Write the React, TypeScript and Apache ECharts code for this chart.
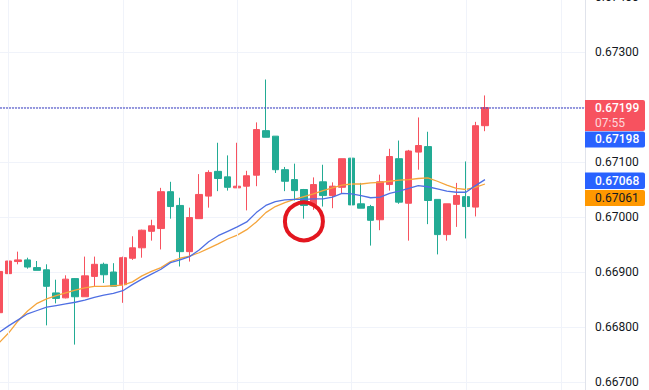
import React, { useEffect, useRef } from "react";
import * as echarts from "echarts";

const slotCount = 62;
const categories = Array.from({ length: slotCount }, (_, i) => String(i));

const opens = [0.66826, 0.66897, 0.66919, 0.66922, 0.66908, 0.66904, 0.66862, 0.66853, 0.66888, 0.66855, 0.66892, 0.66914, 0.669, 0.66877, 0.66925, 0.66944, 0.66974, 0.66979, 0.67046, 0.67021, 0.66937, 0.66997, 0.67038, 0.67083, 0.67073, 0.67053, 0.67056, 0.67076, 0.67157, 0.67147, 0.67086, 0.67068, 0.6705, 0.67022, 0.67064, 0.67039, 0.67054, 0.67107, 0.67024, 0.67019, 0.66995, 0.67059, 0.67106, 0.67025, 0.67118, 0.67128, 0.67032, 0.66968, 0.67023, 0.67037, 0.67018, 0.67166];
const closes = [0.66901, 0.6692, 0.66922, 0.66909, 0.66903, 0.66874, 0.66852, 0.66887, 0.66855, 0.66893, 0.66914, 0.66895, 0.66874, 0.66926, 0.66944, 0.66976, 0.66984, 0.67046, 0.67019, 0.66937, 0.66999, 0.67041, 0.67081, 0.6707, 0.67054, 0.67056, 0.67075, 0.67159, 0.67145, 0.67086, 0.67065, 0.67048, 0.67021, 0.67059, 0.67039, 0.67056, 0.67106, 0.67022, 0.67016, 0.66994, 0.67064, 0.6711, 0.67027, 0.6712, 0.6713, 0.6703, 0.66968, 0.67024, 0.67039, 0.67019, 0.67166, 0.67199];
const lows = [0.66825, 0.6689, 0.66914, 0.66906, 0.66903, 0.66803, 0.66843, 0.66852, 0.66768, 0.66855, 0.66874, 0.6688, 0.66874, 0.66844, 0.66922, 0.66926, 0.66957, 0.66941, 0.66997, 0.6691, 0.66919, 0.66997, 0.67017, 0.67047, 0.67048, 0.67053, 0.67012, 0.67056, 0.67145, 0.6708, 0.67047, 0.6703, 0.66997, 0.67013, 0.67019, 0.67016, 0.67043, 0.67022, 0.67016, 0.66948, 0.66976, 0.67048, 0.67024, 0.66957, 0.67086, 0.66987, 0.66932, 0.66957, 0.66982, 0.66961, 0.67001, 0.67156];
const highs = [0.66903, 0.66946, 0.66937, 0.66926, 0.6692, 0.66914, 0.66886, 0.66894, 0.66889, 0.66928, 0.66928, 0.66917, 0.66916, 0.66928, 0.66965, 0.66977, 0.66995, 0.67053, 0.67064, 0.67035, 0.67017, 0.67078, 0.67085, 0.67135, 0.67112, 0.67135, 0.67084, 0.67172, 0.6725, 0.67147, 0.67091, 0.67097, 0.67051, 0.67072, 0.67095, 0.67063, 0.67106, 0.67117, 0.67062, 0.67022, 0.67077, 0.67124, 0.67139, 0.67122, 0.67181, 0.67155, 0.67032, 0.67024, 0.67062, 0.67101, 0.67173, 0.67221];

const maBlue = [0.6679, 0.66802, 0.66813, 0.66824, 0.6683, 0.66836, 0.66839, 0.66842, 0.66845, 0.66849, 0.66854, 0.66858, 0.66861, 0.66866, 0.66877, 0.66887, 0.66896, 0.66905, 0.66917, 0.66922, 0.66928, 0.6694, 0.66955, 0.66966, 0.66974, 0.66982, 0.66991, 0.67008, 0.67021, 0.67028, 0.67031, 0.67032, 0.67032, 0.67033, 0.67033, 0.67036, 0.67043, 0.67042, 0.67039, 0.67035, 0.67036, 0.67043, 0.67047, 0.67052, 0.67057, 0.67055, 0.67051, 0.67047, 0.67045, 0.67045, 0.67057, 0.67068];
const maOrange = [0.66771, 0.66789, 0.66811, 0.66829, 0.66843, 0.66851, 0.66857, 0.66862, 0.66867, 0.66871, 0.66874, 0.66874, 0.66875, 0.66876, 0.66882, 0.66893, 0.66901, 0.66908, 0.66919, 0.66925, 0.66929, 0.66935, 0.66943, 0.66951, 0.6696, 0.66967, 0.66977, 0.66991, 0.67008, 0.67019, 0.67026, 0.67032, 0.67037, 0.67042, 0.67048, 0.67053, 0.67058, 0.6706, 0.6706, 0.67062, 0.67063, 0.67065, 0.67067, 0.67068, 0.6707, 0.67071, 0.67065, 0.67058, 0.67052, 0.6705, 0.67054, 0.6706];

const vGridSlots = ["1", "13", "25", "37", "49", "59"];
const horizontalLevel = 0.67198;
const lastPrice = 0.67199;
const countdown = "07:55";
const blueMaLast = 0.67068;
const orangeMaLast = 0.67061;
const circleSlot = "32";
const circlePrice = 0.66992;

const yMin = 0.666;
const yMax = 0.674;
const yInterval = 0.001;

const UP = "#f7525f";
const DOWN = "#22ab94";
const FONT = "Roboto, 'Noto Sans', sans-serif";

export default function App() {
  const ref = useRef<HTMLDivElement | null>(null);

  useEffect(() => {
    if (!ref.current) return;
    const chart = echarts.init(ref.current, undefined, { renderer: "svg" });
    const candles = opens.map((o, i) => [o, closes[i], lows[i], highs[i]]);

    chart.setOption({
      animation: false,
      backgroundColor: "#ffffff",
      grid: {
        left: -5.75,
        right: 64,
        top: -3,
        bottom: -47,
        containLabel: false,
        outerBoundsMode: "none",
      },
      xAxis: {
        type: "category",
        data: categories,
        boundaryGap: true,
        axisLine: { show: false },
        axisTick: { show: false },
        axisLabel: { show: false },
        splitLine: { show: false },
      },
      yAxis: {
        type: "value",
        position: "right",
        min: yMin,
        max: yMax,
        interval: yInterval,
        axisLine: { show: true, lineStyle: { color: "#e0e3eb", width: 1 } },
        axisTick: { show: false },
        axisLabel: {
          margin: 10,
          color: "#131722",
          fontSize: 12,
          fontFamily: FONT,
          formatter: (v: number) => v.toFixed(5),
        },
        splitLine: { show: true, lineStyle: { color: "#f0f3fa", width: 1 } },
      },
      series: [
        {
          type: "line",
          data: [],
          z: 1,
          silent: true,
          markLine: {
            silent: true,
            symbol: "none",
            label: { show: false },
            lineStyle: { color: "#f0f3fa", width: 1, type: "solid" },
            data: vGridSlots.map((s) => ({ xAxis: s })),
          },
        },
        {
          type: "candlestick",
          data: candles,
          z: 3,
          barWidth: 7,
          itemStyle: {
            color: UP,
            color0: DOWN,
            borderColor: UP,
            borderColor0: DOWN,
            borderWidth: 1,
          },
          markPoint: {
            silent: true,
            symbol: "circle",
            symbolSize: 38,
            label: { show: false },
            itemStyle: { color: "rgba(0,0,0,0)", borderColor: "#e3161f", borderWidth: 4 },
            data: [{ coord: [circleSlot, circlePrice] }],
          },
        },
        {
          type: "line",
          data: maOrange,
          z: 4,
          showSymbol: false,
          silent: true,
          lineStyle: { color: "#f5a53c", width: 1.3 },
        },
        {
          type: "line",
          data: maBlue,
          z: 5,
          showSymbol: false,
          silent: true,
          lineStyle: { color: "#4f6fe3", width: 1.3 },
          markLine: {
            silent: true,
            symbol: "none",
            precision: 5,
            label: { show: false },
            lineStyle: { color: "#4b4fc6", width: 1.5, type: "dotted" },
            data: [{ yAxis: horizontalLevel }],
          },
        },
      ],
    });

    const yOf = (v: number) => chart.convertToPixel({ yAxisIndex: 0 }, v) as number;
    const axisX = 585;
    const boxW = 60;
    const textX = axisX + 10;
    const yr = yOf(lastPrice);
    const ym = yOf(blueMaLast);

    const box = (top: number, h: number, fill: string) => ({
      type: "rect",
      shape: { x: axisX, y: top, width: boxW, height: h, r: [0, 2, 2, 0] },
      style: { fill },
      z: 100,
    });
    const txt = (y: number, text: string, fill: string, weight: any = 500) => ({
      type: "text",
      x: textX,
      y,
      style: {
        text,
        fill,
        font: `${weight} 12px ${FONT}`,
        verticalAlign: "middle",
        align: "left",
      },
      z: 101,
    });

    const redTop = yr - 7.6;
    const blueTop = redTop + 31.5;
    const maTop = ym - 7;
    const orangeTop = maTop + 17.3;

    chart.setOption({
      graphic: [
        box(redTop, 31, UP),
        txt(yr, lastPrice.toFixed(5), "#ffffff"),
        txt(yr + 15, countdown, "rgba(255,255,255,0.78)", 400),
        box(blueTop, 16, "#2962ff"),
        txt(blueTop + 8, horizontalLevel.toFixed(5), "#ffffff"),
        box(maTop, 16.5, "#2962ff"),
        txt(maTop + 8.3, blueMaLast.toFixed(5), "#ffffff"),
        box(orangeTop, 16, "#ff9800"),
        txt(orangeTop + 8, orangeMaLast.toFixed(5), "#131722", 400),
      ],
    });

    return () => chart.dispose();
  }, []);

  return (
    <div
      ref={ref}
      style={{ position: "absolute", left: 0, top: 0, width: 649, height: 390 }}
    />
  );
}
